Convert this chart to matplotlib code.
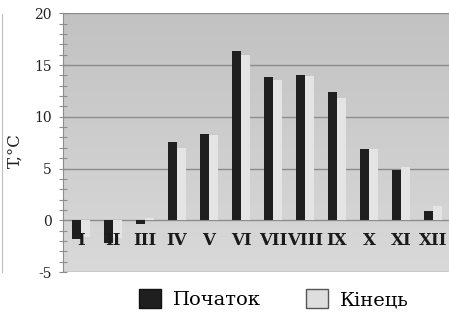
import matplotlib
matplotlib.use("Agg")
import matplotlib.pyplot as plt
import numpy as np
from matplotlib.patches import Patch
from matplotlib.lines import Line2D

# data
months = ["I", "II", "III", "IV", "V", "VI", "VII", "VIII", "IX", "X", "XI", "XII"]
start_temp = [-1.8, -2.2, -0.4, 7.6, 8.3, 16.4, 13.8, 14.0, 12.4, 6.9, 4.9, 0.9]
end_temp = [-1.6, -1.7, 0.2, 7.0, 8.2, 16.0, 13.6, 13.9, 11.8, 6.9, 5.1, 1.4]
series_names = ["Початок", "Кінець"]
y_ticks = [-5, 0, 5, 10, 15, 20]

serif = "DejaVu Serif"
dark = "#1f1f1f"
light = "#e4e4e4"
grid_col = "#8c8c8c"

fig = plt.figure(figsize=(4.49, 3.12), dpi=100)
ax = fig.add_axes([63 / 449, 1 - 272 / 312, 386 / 449, (272 - 13.3) / 312])

x0, x1 = -0.56, 11.5
y0, y1 = -5, 20

# gradient plot background
grad = np.linspace(0, 1, 256).reshape(-1, 1)
ax.imshow(grad, extent=[x0, x1, y0, y1], aspect="auto", origin="upper",
          cmap=plt.matplotlib.colors.LinearSegmentedColormap.from_list(
              "bg", ["#c2c2c2", "#d9d9d9"]), zorder=0)

x = np.arange(len(months))
w = 0.28
ax.bar(x - w / 2, start_temp, width=w, color=dark, zorder=3)
ax.bar(x + w / 2, end_temp, width=w, color=light, zorder=3)

# horizontal grid lines
for t in y_ticks:
    ax.axhline(t, color=grid_col, lw=1.0, zorder=2)

# month labels sit inside the plot, just below zero
for xi, m in zip(x, months):
    ax.text(xi, -2.0, m, ha="center", va="center", family=serif,
            fontweight="bold", fontsize=12, color="#1a1a1a", zorder=4)

ax.set_xlim(x0, x1)
ax.set_ylim(y0, y1)
ax.set_xticks([])
ax.set_yticks(y_ticks)
ax.set_yticks(np.arange(-5, 21, 1), minor=True)
ax.set_yticklabels([str(t) for t in y_ticks], family=serif, fontsize=10, color="#222222")
ax.tick_params(axis="y", which="both", direction="inout", length=6, width=0.8,
               color=grid_col, pad=5)

for s in ["top", "right", "bottom"]:
    ax.spines[s].set_visible(False)
ax.spines["left"].set_color(grid_col)

ax.set_ylabel("T,°C", family=serif, fontsize=12, color="#222222")
ax.yaxis.set_label_coords(-0.102, 0.47)

handles = [Patch(facecolor=dark, edgecolor="#111111", label=series_names[0]),
           Patch(facecolor="#dedede", edgecolor="#555555", lw=1.0, label=series_names[1])]
fig.legend(handles=handles, loc="center", bbox_to_anchor=(0.61, 0.042), ncol=2,
           frameon=False, prop={"family": serif, "size": 14},
           handlelength=1.15, handleheight=1.15, handletextpad=0.6,
           columnspacing=2.3)

# faint edge of the cropped page on the far left
fig.add_artist(Line2D([1.5 / 449, 1.5 / 449], [1 - 272 / 312, 1 - 14 / 312],
                      transform=fig.transFigure, color="#bdbdbd", lw=0.8))

fig.savefig("out.png", dpi=100, facecolor="white")
